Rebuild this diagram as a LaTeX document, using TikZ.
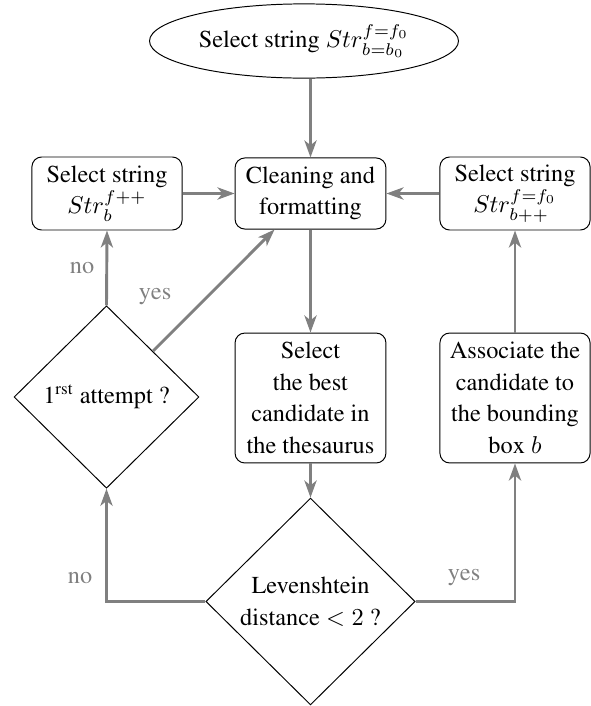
\documentclass[tikz,border=0pt]{standalone}
\usepackage[T1]{fontenc}
\renewcommand{\rmdefault}{ptm}
\usetikzlibrary{shapes.geometric,arrows.meta,calc}
\begin{document}
\begin{tikzpicture}[x=0.411pt,y=-0.411pt,
  every node/.style={font=\rmfamily\fontsize{10}{13}\selectfont},
  box/.style={draw,rounded corners=4pt,line width=0.4pt,align=center,inner sep=0pt},
  dec/.style={draw,diamond,line width=0.4pt,align=center,inner sep=0pt},
  arr/.style={draw=gray,line width=1.2pt,-{Stealth[length=7pt,width=5pt,inset=2pt]}},
  lbl/.style={text=gray}]
\useasboundingbox (0,0) rectangle (591,706);
\node[draw,ellipse,line width=0.4pt,minimum width=127pt,minimum height=30.5pt,inner sep=0pt] (ell) at (304,41) {Select string $Str_{b=b_0}^{f=f_0}$};
\node[box,minimum width=62pt,minimum height=29.2pt] (clean) at (310.5,193.5) {Cleaning and\\formatting};
\node[box,minimum width=61.7pt,minimum height=30pt] (left) at (107,193.5) {Select string\\$Str_b^{f++}$};
\node[box,minimum width=61.7pt,minimum height=30pt] (right) at (515,193.5) {Select string\\$Str_{b++}^{f=f_0}$};
\node[box,minimum width=62pt,minimum height=53.4pt] (best) at (310.5,398) {Select\\the best\\candidate in\\the thesaurus};
\node[box,minimum width=61.7pt,minimum height=53.4pt] (assoc) at (515,398) {Associate the\\candidate to\\the bounding\\box $b$};
\node[dec,minimum width=76pt,minimum height=75pt] (d1) at (106.5,397) {1\textsuperscript{rst} attempt ?};
\node[dec,minimum width=86pt,minimum height=85pt] (d2) at (310.5,601.5) {Levenshtein\\distance $<2$ ?};
\draw[arr] (ell.south -| clean.north) -- (clean.north);
\draw[arr] (left.east) -- (clean.west);
\draw[arr] (right.west) -- (clean.east);
\draw[arr] (clean.south) -- (best.north);
\draw[arr] (best.south) -- (d2.north);
\draw[arr] (d2.west) -| (d1.south);
\draw[arr] (d2.east) -| (assoc.south);
\draw[arr] (assoc.north) -- (right.south);
\draw[arr] (d1.north) -- (left.south);
\draw[arr] (d1.north east) -- (clean);
\node[lbl] (no1) at (82,268) {no};
\node[lbl] (yes1) at (155,297) {yes};
\node[lbl] (no2) at (80,578) {no};
\node[lbl] (yes2) at (464,578) {yes};
\end{tikzpicture}
\end{document}
